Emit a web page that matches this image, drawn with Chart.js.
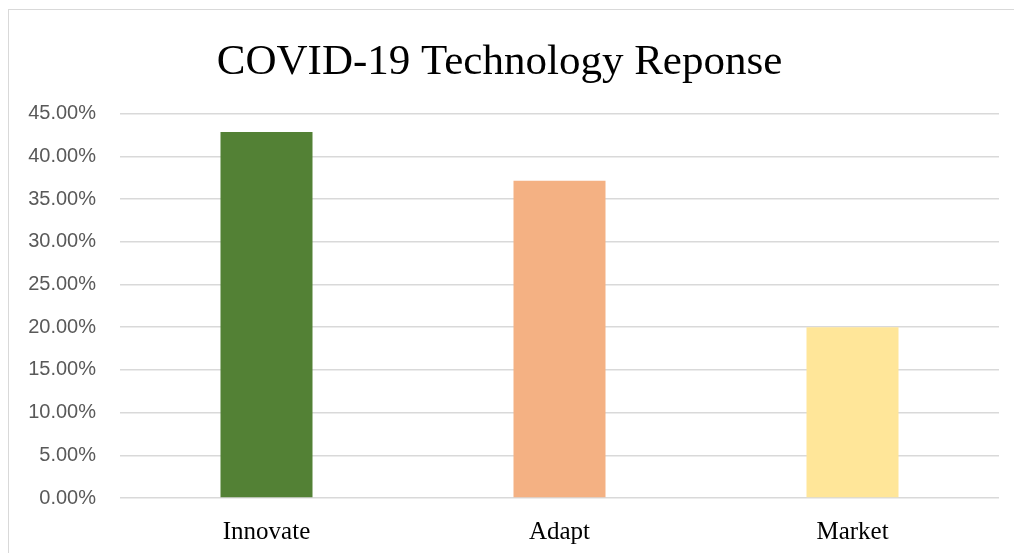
<!DOCTYPE html>
<html>
<head>
<meta charset="utf-8">
<script src="https://cdn.jsdelivr.net/npm/chart.js@4.4.0/dist/chart.umd.min.js"></script>
<style>
  html, body { margin: 0; padding: 0; background: #fff; overflow: hidden; }
  .frame {
      position: absolute; left: 8px; top: 9px;
      width: 1030px; height: 570px;
      border: 1px solid #d9d9d9;
  }
  .chart-box { position: absolute; left: 0; top: 0; width: 1014px; height: 553px; }
</style>
</head>
<body>
<div class="frame"></div>
<div class="chart-box"><canvas id="techChart"></canvas></div>
<script>
// data
const categories = ['Innovate', 'Adapt', 'Market'];
const shares = [42.86, 37.14, 20.0];
const barColors = ['#538135', '#F4B183', '#FFE699'];
const yTicks = [0, 5, 10, 15, 20, 25, 30, 35, 40, 45];

const ctx = document.getElementById('techChart').getContext('2d');
const techChart = new Chart(ctx, {
    type: 'bar',
    data: {
        labels: categories,
        datasets: [{
            data: shares,
            backgroundColor: barColors,
            borderWidth: 0,
            categoryPercentage: 1.0,
            barPercentage: 0.314
        }]
    },
    options: {
        responsive: true,
        maintainAspectRatio: false,
        animation: false,
        layout: {
            padding: { left: 0, right: 15, top: 0, bottom: 0 }
        },
        plugins: {
            legend: { display: false },
            tooltip: { enabled: false },
            title: {
                display: true,
                text: 'COVID-19 Technology Reponse',
                color: '#000',
                font: { family: '"Liberation Serif", serif', size: 43, weight: 'normal' },
                padding: { top: 37, bottom: 25 }
            }
        },
        scales: {
            y: {
                min: 0,
                max: 45,
                afterBuildTicks: (scale) => {
                    scale.ticks = yTicks.map(v => ({ value: v }));
                },
                afterFit: (scale) => { scale.width = 120; },
                border: { display: false },
                grid: { color: '#d9d9d9', lineWidth: 1.5, drawTicks: false },
                ticks: {
                    padding: 24,
                    color: '#595959',
                    font: { family: '"Liberation Sans", sans-serif', size: 20 },
                    callback: (v) => v.toFixed(2) + '%'
                }
            },
            x: {
                afterFit: (scale) => { scale.height = 55; },
                border: { display: false },
                grid: { display: false, drawTicks: false },
                ticks: {
                    padding: 19,
                    color: '#000',
                    font: { family: '"Liberation Serif", serif', size: 25 }
                }
            }
        }
    }
});
</script>
</body>
</html>
